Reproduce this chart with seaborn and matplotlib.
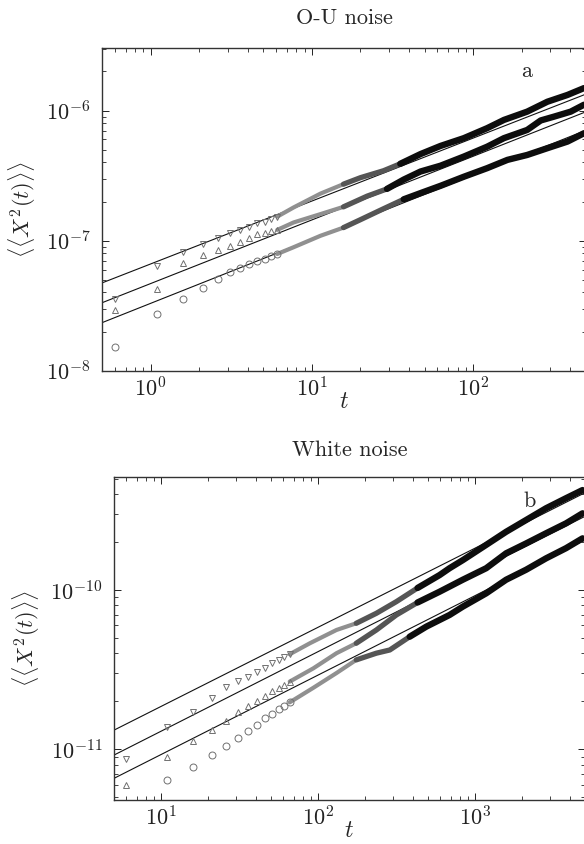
import numpy as np
import matplotlib
matplotlib.use("Agg")
import matplotlib.pyplot as plt
import matplotlib.ticker as mticker
import seaborn as sns

# ---------------- data: O-U noise panel ----------------
ou_t_sparse = [0.6, 1.1, 1.6, 2.1, 2.6, 3.1, 3.6, 4.1, 4.6, 5.1, 5.6, 6.1]
ou_down_sparse = [3.56e-8, 6.38e-8, 8.15e-8, 9.44e-8, 1.04e-7, 1.14e-7, 1.21e-7,
                  1.28e-7, 1.36e-7, 1.40e-7, 1.46e-7, 1.53e-7]
ou_up_sparse = [2.93e-8, 4.25e-8, 6.77e-8, 7.72e-8, 8.48e-8, 9.10e-8, 9.72e-8,
                1.04e-7, 1.12e-7, 1.14e-7, 1.19e-7, 1.21e-7]
ou_circ_sparse = [1.53e-8, 2.74e-8, 3.58e-8, 4.35e-8, 5.10e-8, 5.78e-8, 6.20e-8,
                  6.65e-8, 7.02e-8, 7.23e-8, 7.62e-8, 7.90e-8]

ou_down_band_t = [6.1, 7.7, 11.3, 15.7, 20, 27.8, 35.3, 47.1, 62.7, 87.4, 122, 155, 216, 288, 384, 486]
ou_down_band = [1.53e-7, 1.80e-7, 2.30e-7, 2.72e-7, 3.05e-7, 3.45e-7, 3.90e-7, 4.63e-7, 5.35e-7,
                6.14e-7, 7.33e-7, 8.48e-7, 9.82e-7, 1.17e-6, 1.32e-6, 1.49e-6]
ou_up_band_t = [6.1, 7.7, 11.3, 15.7, 22.0, 29.2, 37.1, 47.1, 62.7, 87.4, 122, 155, 216, 262, 317, 402, 486]
ou_up_band = [1.21e-7, 1.38e-7, 1.60e-7, 1.82e-7, 2.20e-7, 2.50e-7, 2.95e-7, 3.40e-7, 3.77e-7,
              4.43e-7, 5.28e-7, 6.14e-7, 7.10e-7, 8.40e-7, 8.99e-7, 9.82e-7, 1.11e-6]
ou_circ_band_t = [6.1, 7.7, 11.3, 15.7, 20, 27.8, 37.1, 47.1, 62.7, 87.4, 122, 163, 216, 288, 384, 486]
ou_circ_band = [7.90e-8, 8.90e-8, 1.09e-7, 1.26e-7, 1.45e-7, 1.76e-7, 2.08e-7, 2.32e-7, 2.64e-7,
                3.10e-7, 3.61e-7, 4.18e-7, 4.56e-7, 5.14e-7, 5.78e-7, 6.70e-7]

ou_fit_t = [0.5, 500]
ou_fit_top = [4.73e-8, 1.34e-6]
ou_fit_mid = [3.33e-8, 9.80e-7]
ou_fit_bot = [2.34e-8, 7.06e-7]

ou_xticks = [1e0, 1e1, 1e2]
ou_yticks = [1e-8, 1e-7, 1e-6]

# ---------------- data: White noise panel ----------------
wn_t_sparse = [6, 11, 16, 21, 26, 31, 36, 41, 46, 51, 56, 61, 66]
wn_down_sparse = [8.69e-12, 1.38e-11, 1.72e-11, 2.09e-11, 2.45e-11, 2.68e-11, 2.86e-11,
                  3.04e-11, 3.25e-11, 3.47e-11, 3.64e-11, 3.78e-11, 3.95e-11]
wn_up_sparse = [5.97e-12, 8.91e-12, 1.12e-11, 1.32e-11, 1.51e-11, 1.72e-11, 1.87e-11,
                2.02e-11, 2.17e-11, 2.33e-11, 2.42e-11, 2.53e-11, 2.66e-11]
wn_t_circ = [11, 16, 21, 26, 31, 36, 41, 46, 51, 56, 61, 66]
wn_circ_sparse = [6.41e-12, 7.78e-12, 9.21e-12, 1.05e-11, 1.18e-11, 1.31e-11, 1.42e-11,
                  1.57e-11, 1.66e-11, 1.78e-11, 1.87e-11, 1.97e-11]

wn_down_band_t = [66, 88.7, 131, 175, 235, 315, 430, 593, 687, 834, 1175, 1574, 2109, 2825, 3785, 4822]
wn_down_band = [3.95e-11, 4.63e-11, 5.61e-11, 6.18e-11, 7.14e-11, 8.45e-11, 1.03e-10, 1.24e-10,
                1.37e-10, 1.54e-10, 1.92e-10, 2.32e-10, 2.75e-10, 3.26e-10, 3.77e-10, 4.24e-10]
wn_up_band_t = [66, 93.2, 131, 175, 235, 315, 430, 593, 834, 1175, 1574, 2109, 2825, 3785, 4822]
wn_up_band = [2.66e-11, 3.22e-11, 4.01e-11, 4.63e-11, 5.61e-11, 6.97e-11, 8.35e-11, 9.75e-11,
              1.16e-10, 1.37e-10, 1.70e-10, 1.96e-10, 2.27e-10, 2.62e-10, 3.03e-10]
wn_circ_band_t = [66, 93.2, 131, 175, 235, 286, 383, 489, 593, 687, 834, 1175, 1574, 2109, 2825, 3785, 4822]
wn_circ_band = [1.97e-11, 2.43e-11, 3.01e-11, 3.64e-11, 4.01e-11, 4.20e-11, 5.09e-11, 5.89e-11,
                6.48e-11, 6.97e-11, 7.86e-11, 9.53e-11, 1.16e-10, 1.34e-10, 1.58e-10, 1.83e-10, 2.11e-10]

wn_fit_t = [5, 5000]
wn_fit_top = [1.315e-11, 4.08e-10]
wn_fit_mid = [9.17e-12, 2.90e-10]
wn_fit_bot = [6.55e-12, 2.06e-10]

wn_xticks = [1e1, 1e2, 1e3]
wn_yticks = [1e-11, 1e-10]

titles = ["O-U noise", "White noise"]
panel_tags = ["a", "b"]

# ---------------- style ----------------
sns.set_theme(style="ticks")
plt.rcParams["font.family"] = ["cmr10", "DejaVu Serif"]
plt.rcParams["mathtext.fontset"] = "cm"
plt.rcParams["axes.formatter.use_mathtext"] = True
plt.rcParams["axes.unicode_minus"] = False

W, H = 584, 844
fig = plt.figure(figsize=(W / 100, H / 100), dpi=100)


def fx(px):
    return px / W


def fy(px):
    return 1 - px / H


ax1 = fig.add_axes([fx(102), fy(370.7), fx(586 - 102), (370.7 - 48) / H])
ax2 = fig.add_axes([fx(113.7), fy(800), fx(585 - 113.7), (800 - 477.3) / H])

MK_EDGE = "#707070"
LINE_C = "#111111"


def markers(ax, t, y, m, ms):
    sns.lineplot(x=t, y=y, ax=ax, marker=m, linestyle="", markersize=ms,
                 markerfacecolor="none", markeredgecolor=MK_EDGE, markeredgewidth=0.7,
                 estimator=None, sort=False, legend=False)


def band(ax, t, y, split1, split2):
    t = np.asarray(t, float)
    y = np.asarray(y, float)
    k1 = int(np.searchsorted(t, split1)) + 1
    k2 = int(np.searchsorted(t, split2)) + 1
    sns.lineplot(x=t[:k1], y=y[:k1], ax=ax, color="#909090", lw=3.0, estimator=None,
                 sort=False, legend=False, solid_capstyle="round")
    sns.lineplot(x=t[k1 - 1:k2], y=y[k1 - 1:k2], ax=ax, color="#555555", lw=3.8, estimator=None,
                 sort=False, legend=False, solid_capstyle="round")
    sns.lineplot(x=t[k2 - 1:], y=y[k2 - 1:], ax=ax, color="#0d0d0d", lw=4.6, estimator=None,
                 sort=False, legend=False, solid_capstyle="round")


def fit(ax, t, y):
    sns.lineplot(x=t, y=y, ax=ax, color=LINE_C, lw=0.8, estimator=None, sort=False, legend=False)


# panel a
fit(ax1, ou_fit_t, ou_fit_top)
fit(ax1, ou_fit_t, ou_fit_mid)
fit(ax1, ou_fit_t, ou_fit_bot)
band(ax1, ou_down_band_t, ou_down_band, 12, 28)
band(ax1, ou_up_band_t, ou_up_band, 12, 28)
band(ax1, ou_circ_band_t, ou_circ_band, 12, 28)
markers(ax1, ou_t_sparse, ou_down_sparse, "v", 5)
markers(ax1, ou_t_sparse, ou_up_sparse, "^", 5)
markers(ax1, ou_t_sparse, ou_circ_sparse, "o", 5)

# panel b
fit(ax2, wn_fit_t, wn_fit_top)
fit(ax2, wn_fit_t, wn_fit_mid)
fit(ax2, wn_fit_t, wn_fit_bot)
band(ax2, wn_down_band_t, wn_down_band, 150, 350)
band(ax2, wn_up_band_t, wn_up_band, 150, 350)
band(ax2, wn_circ_band_t, wn_circ_band, 150, 350)
markers(ax2, wn_t_sparse, wn_down_sparse, "v", 5)
markers(ax2, wn_t_sparse, wn_up_sparse, "^", 5)
markers(ax2, wn_t_circ, wn_circ_sparse, "o", 5)

limits = [((0.5, 500), (1e-8, 3.03e-6)), ((5, 5000), (4.8e-12, 5.1e-10))]
ticks = [(ou_xticks, ou_yticks), (wn_xticks, wn_yticks)]
tag_pos = [(0.8775, 0.9265), (0.883, 0.9244)]
title_y = [18, 450]

for ax, (xl, yl), (xt, yt), title, tag, tp, ty in zip([ax1, ax2], limits, ticks, titles,
                                                      panel_tags, tag_pos, title_y):
    ax.set_xscale("log")
    ax.set_yscale("log")
    ax.set_xticks(xt)
    ax.set_yticks(yt)
    ax.xaxis.set_minor_locator(mticker.LogLocator(base=10, subs=np.arange(2, 10)))
    ax.yaxis.set_minor_locator(mticker.LogLocator(base=10, subs=np.arange(2, 10)))
    ax.xaxis.set_minor_formatter(mticker.NullFormatter())
    ax.yaxis.set_minor_formatter(mticker.NullFormatter())
    ax.set_xlim(*xl)
    ax.set_ylim(*yl)
    ax.tick_params(which="both", direction="in", top=True, right=True, labelsize=16,
                   colors="#222222")
    ax.tick_params(axis="x", which="major", pad=4)
    ax.tick_params(axis="y", which="major", pad=8)
    ax.tick_params(which="major", length=5, width=0.7)
    ax.tick_params(which="minor", length=2.8, width=0.6)
    for s in ax.spines.values():
        s.set_color("#333333")
        s.set_linewidth(1.0)
    ax.set_xlabel("$t$", fontsize=17, labelpad=-7)
    ax.set_ylabel(r"$\langle\langle X^2(t)\rangle\rangle$", fontsize=16, labelpad=6)
    ax.text(tp[0], tp[1], tag, transform=ax.transAxes, fontsize=16, ha="center", va="center")
    bb = ax.get_position()
    fig.text((bb.x0 + bb.x1) / 2, fy(ty), title, fontsize=16, ha="center", va="center")

fig.savefig("out.png", dpi=100)
